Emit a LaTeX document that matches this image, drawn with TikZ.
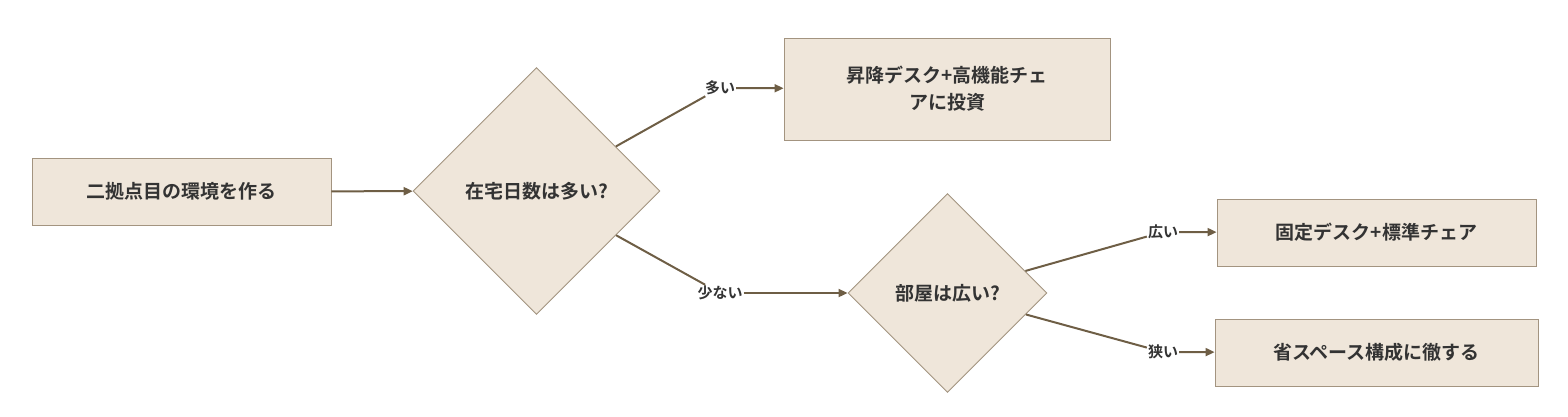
\documentclass[tikz,border=0pt]{standalone}
\usepackage{fontspec}
\setmainfont{Noto Sans CJK JP}[BoldFont={Noto Sans CJK JP Bold}]
\usetikzlibrary{shapes.geometric,arrows.meta}
\definecolor{fillc}{HTML}{EFE6DA}
\definecolor{bord}{HTML}{A39480}
\definecolor{edge}{HTML}{6E5E45}
\definecolor{txt}{HTML}{333333}
\begin{document}
\begin{tikzpicture}[x=1pt,y=-1pt,
 box/.style={draw=bord,fill=fillc,line width=0.9pt,inner sep=0,text=txt,font=\fontsize{19}{27}\selectfont\bfseries,align=center},
 dia/.style={draw=bord,fill=fillc,line width=0.9pt,diamond,inner sep=0,minimum width=#1,minimum height=#1,text=txt,font=\fontsize{19}{24}\selectfont\bfseries},
 lab/.style={fill=white,inner sep=1pt,text=txt,font=\fontsize{15}{18}\selectfont\bfseries},
 ln/.style={draw=edge,line width=2pt},
 ar/.style={ln,-{Triangle[length=9pt,width=8pt]}}]
\useasboundingbox (0,0) rectangle (1568,416);
\node[box,minimum width=299,minimum height=67] (a) at (181.5,191.5) {二拠点目の環境を作る};
\node[dia=247] (d1) at (536.5,191) {在宅日数は多い?};
\node[box,minimum width=326,minimum height=102] (b) at (947,89) {昇降デスク+高機能チェ\\アに投資};
\node[dia=199] (d2) at (947.5,293) {部屋は広い?};
\node[box,minimum width=319,minimum height=67] (c) at (1376.5,232.5) {固定デスク+標準チェア};
\node[box,minimum width=323,minimum height=67] (e) at (1376.5,352.5) {省スペース構成に徹する};
\node[lab] (l1) at (720,88) {多い};
\node[lab] (l2) at (720,293) {少ない};
\node[lab] (l3) at (1163,232) {広い};
\node[lab] (l4) at (1163,352) {狭い};
\draw[ar] (a) -- (d1);
\draw[ln] (d1) -- (l1); \draw[ar] (l1) -- (b);
\draw[ln] (d1) -- (l2); \draw[ar] (l2) -- (d2);
\draw[ln] (d2) -- (l3); \draw[ar] (l3) -- (c);
\draw[ln] (d2) -- (l4); \draw[ar] (l4) -- (e);
\end{tikzpicture}
\end{document}
